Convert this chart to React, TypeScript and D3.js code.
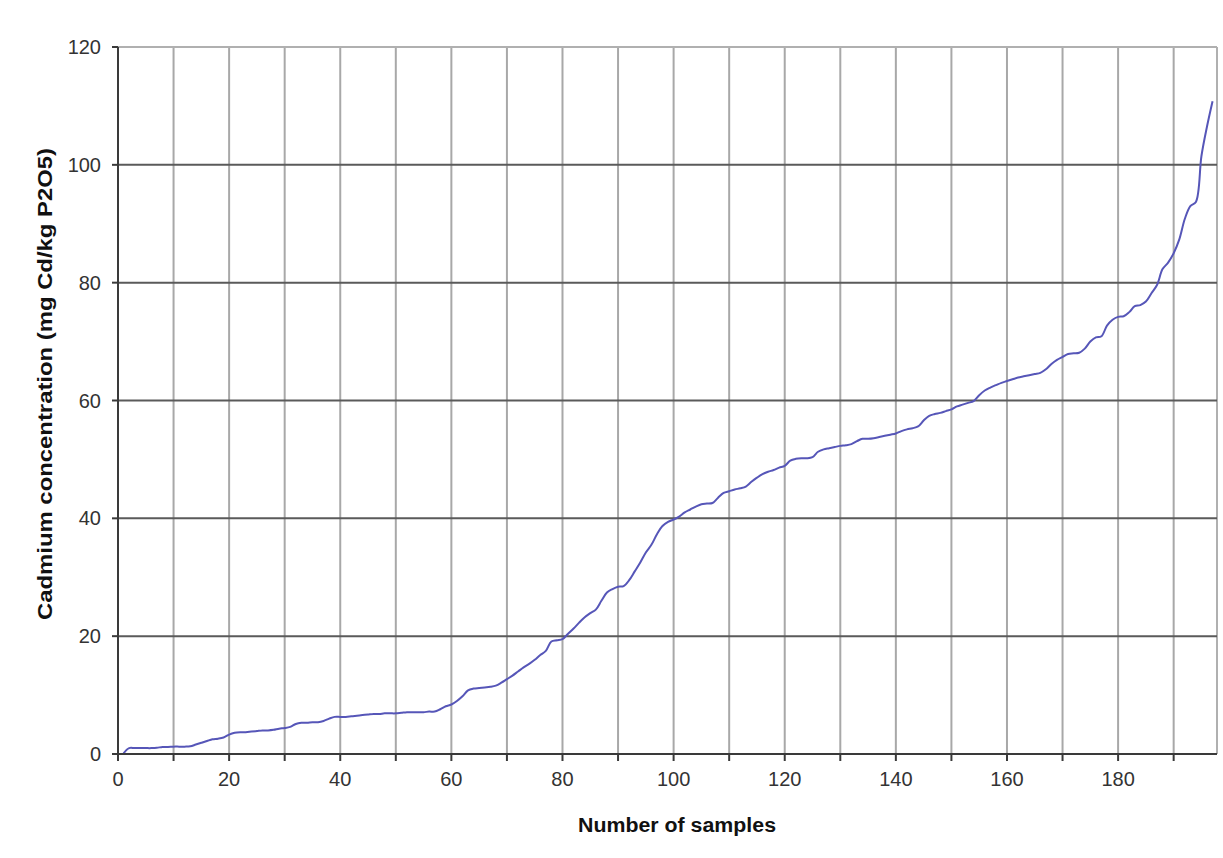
import React from "react";
import * as d3 from "d3";

const cadmium: number[] = [
  0.1, 1.0, 1.0, 1.0, 1.0, 1.0, 1.05, 1.2, 1.2, 1.25,
  1.25, 1.25, 1.3, 1.6, 1.9, 2.2, 2.5, 2.6, 2.8, 3.3,
  3.6, 3.7, 3.7, 3.8, 3.9, 4.0, 4.0, 4.1, 4.3, 4.4,
  4.6, 5.1, 5.3, 5.3, 5.4, 5.4, 5.6, 6.0, 6.3, 6.3,
  6.3, 6.4, 6.5, 6.6, 6.7, 6.8, 6.8, 6.9, 6.9, 6.9,
  7.0, 7.1, 7.1, 7.1, 7.1, 7.2, 7.2, 7.6, 8.1, 8.4,
  9.0, 9.8, 10.8, 11.1, 11.2, 11.3, 11.4, 11.6, 12.1, 12.7,
  13.3, 14.0, 14.7, 15.3, 16.0, 16.8, 17.5, 19.1, 19.3, 19.5,
  20.4, 21.3, 22.3, 23.2, 23.9, 24.5, 26.0, 27.4, 28.0, 28.4,
  28.5, 29.5, 31.0, 32.5, 34.2, 35.5, 37.3, 38.7, 39.4, 39.8,
  40.3, 41.0, 41.5, 42.0, 42.4, 42.5, 42.6, 43.5, 44.3, 44.6,
  44.9, 45.1, 45.4, 46.2, 46.9, 47.5, 47.9, 48.2, 48.6, 48.9,
  49.8, 50.1, 50.2, 50.2, 50.4, 51.3, 51.7, 51.9, 52.1, 52.3,
  52.4, 52.6, 53.1, 53.5, 53.5, 53.6, 53.8, 54.0, 54.2, 54.4,
  54.8, 55.1, 55.3, 55.6, 56.6, 57.4, 57.7, 57.9, 58.2, 58.5,
  59.0, 59.3, 59.6, 59.9, 60.9, 61.7, 62.2, 62.6, 63.0, 63.3,
  63.6, 63.9, 64.1, 64.3, 64.5, 64.7, 65.3, 66.2, 66.9, 67.4,
  67.9, 68.0, 68.1, 68.8, 70.0, 70.7, 70.9, 72.7, 73.7, 74.2,
  74.3, 75.0, 76.0, 76.2, 76.8, 78.2, 79.6, 82.3, 83.4, 85.0,
  87.3, 90.8, 93.0, 93.7, 101.5, 106.5, 110.8,
];

const xTicks: number[] = [0, 10, 20, 30, 40, 50, 60, 70, 80, 90, 100, 110, 120, 130, 140, 150, 160, 170, 180, 190];
const xTickLabels: number[] = [0, 20, 40, 60, 80, 100, 120, 140, 160, 180];
const yTicks: number[] = [0, 20, 40, 60, 80, 100, 120];

const xTitle = "Number of samples";
const yTitle = "Cadmium concentration (mg Cd/kg P2O5)";

export default function App() {
  const W = 1223, H = 858;
  const left = 118, right = 1217, top = 47, bottom = 754;
  const x = d3.scaleLinear().domain([0, 197.8]).range([left, right]);
  const y = d3.scaleLinear().domain([0, 120]).range([bottom, top]);
  const pts: [number, number][] = cadmium.map((v, i) => [i + 1, v]);
  const line = d3
    .line<[number, number]>()
    .x((d) => x(d[0]))
    .y((d) => y(d[1]))
    .curve(d3.curveCatmullRom.alpha(0.5));
  const font = "'Liberation Sans', Arial, sans-serif";
  return (
    <svg width={W} height={H} style={{ position: "absolute", left: 0, top: 0, background: "#fff" }} fontFamily={font}>
      {xTicks.filter((t) => t > 0).map((t) => (
        <line key={"vx" + t} x1={x(t)} x2={x(t)} y1={top} y2={bottom} stroke="#a8a8a8" strokeWidth={2} />
      ))}
      <line x1={right} x2={right} y1={top} y2={bottom} stroke="#b0b0b0" strokeWidth={2} />
      <line x1={left} x2={right} y1={top} y2={top} stroke="#b0b0b0" strokeWidth={2} />
      {yTicks.filter((t) => t > 0 && t < 120).map((t) => (
        <line key={"hy" + t} x1={left} x2={right} y1={y(t)} y2={y(t)} stroke="#5a5a5a" strokeWidth={2} />
      ))}
      <path d={line(pts) || ""} fill="none" stroke="#5656b8" strokeWidth={2} />
      <line x1={left} x2={left} y1={top} y2={bottom} stroke="#3a3a3a" strokeWidth={2} />
      <line x1={left} x2={right} y1={bottom} y2={bottom} stroke="#3a3a3a" strokeWidth={2} />
      {yTicks.map((t) => (
        <g key={"yt" + t}>
          <line x1={left - 6} x2={left} y1={y(t)} y2={y(t)} stroke="#3a3a3a" strokeWidth={2} />
          <text x={101} y={y(t)} dy="0.35em" textAnchor="end" fontSize={20} fill="#333">
            {t}
          </text>
        </g>
      ))}
      {xTicks.map((t) => (
        <line key={"xt" + t} x1={x(t)} x2={x(t)} y1={bottom} y2={bottom + 7} stroke="#3a3a3a" strokeWidth={2} />
      ))}
      {xTickLabels.map((t) => (
        <text key={"xl" + t} x={x(t)} y={779} dy="0.35em" textAnchor="middle" fontSize={20} fill="#333">
          {t}
        </text>
      ))}
      <text
        x={677}
        y={825}
        dy="0.35em"
        textAnchor="middle"
        fontSize={20}
        fontWeight="bold"
        fill="#111"
        textLength={198}
        lengthAdjust="spacingAndGlyphs"
      >
        {xTitle}
      </text>
      <text
        transform={`translate(45, 384) rotate(-90)`}
        dy="0.35em"
        textAnchor="middle"
        fontSize={20}
        fontWeight="bold"
        fill="#111"
        textLength={472}
        lengthAdjust="spacingAndGlyphs"
      >
        {yTitle}
      </text>
    </svg>
  );
}
